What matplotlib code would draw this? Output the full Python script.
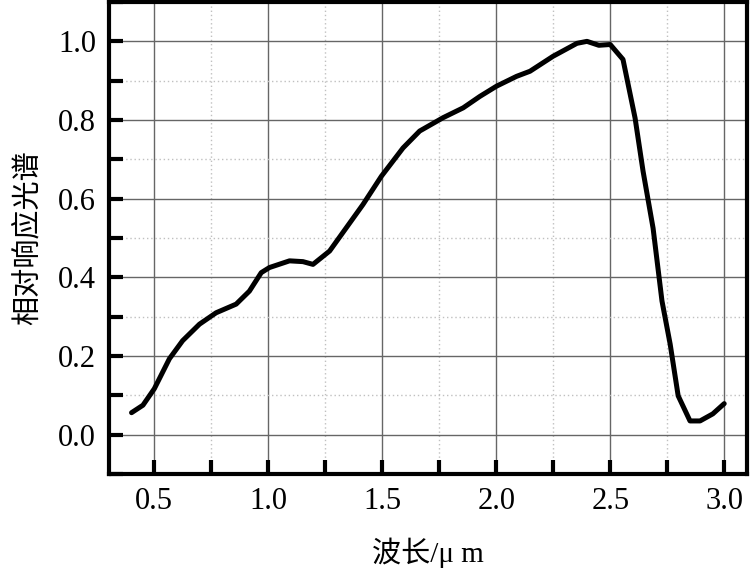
import numpy as np
import matplotlib
matplotlib.use('Agg')
import matplotlib.pyplot as plt
from matplotlib.ticker import MultipleLocator, FormatStrFormatter

# wavelength (um) and relative response
wavelength = [0.40, 0.45, 0.50, 0.566, 0.624, 0.698, 0.771, 0.859, 0.917, 0.969,
              1.005, 1.093, 1.152, 1.196, 1.269, 1.342, 1.415, 1.496, 1.591, 1.664,
              1.767, 1.855, 1.928, 2.001, 2.089, 2.148, 2.249, 2.354, 2.398, 2.45,
              2.50, 2.556, 2.609, 2.644, 2.688, 2.727, 2.763, 2.798, 2.85, 2.894,
              2.95, 3.00]
response = [0.056, 0.075, 0.117, 0.193, 0.239, 0.281, 0.310, 0.332, 0.365, 0.412,
            0.425, 0.442, 0.440, 0.433, 0.467, 0.526, 0.585, 0.657, 0.729, 0.772,
            0.806, 0.831, 0.860, 0.886, 0.911, 0.924, 0.962, 0.995, 1.000, 0.990,
            0.992, 0.954, 0.805, 0.670, 0.525, 0.340, 0.230, 0.099, 0.035, 0.035,
            0.053, 0.079]

xlabel = '波长/μ m'
ylabel = '相对响应光谱'

plt.rcParams['font.family'] = ['Liberation Serif', 'Noto Sans CJK SC', 'DejaVu Sans']

fig = plt.figure(figsize=(7.5, 5.76), dpi=100)
ax = fig.add_axes([0.145, 0.177, 0.851, 0.8195])

ax.plot(wavelength, response, color='black', lw=3.6, solid_joinstyle='round',
        solid_capstyle='round')

ax.set_xlim(0.3, 3.1)
ax.set_ylim(-0.1, 1.1)
ax.xaxis.set_major_locator(MultipleLocator(0.5))
ax.xaxis.set_minor_locator(MultipleLocator(0.25))
ax.yaxis.set_major_locator(MultipleLocator(0.2))
ax.yaxis.set_minor_locator(MultipleLocator(0.1))
ax.xaxis.set_major_formatter(FormatStrFormatter('%.1f'))
ax.yaxis.set_major_formatter(FormatStrFormatter('%.1f'))

ax.grid(which='major', color='#666666', lw=1.0, ls='-')
ax.grid(which='minor', color='#c0c0c0', lw=1.0, ls=(0, (1, 2)))
ax.set_axisbelow(True)

for s in ax.spines.values():
    s.set_linewidth(3.0)
ax.tick_params(which='both', direction='in', top=False, right=False,
               length=10, width=3, labelsize=22, pad=9)

ax.set_xlabel(xlabel, fontsize=21, labelpad=16)
ax.set_ylabel(ylabel, fontsize=21, labelpad=12)

fig.savefig('out.png', dpi=100)
